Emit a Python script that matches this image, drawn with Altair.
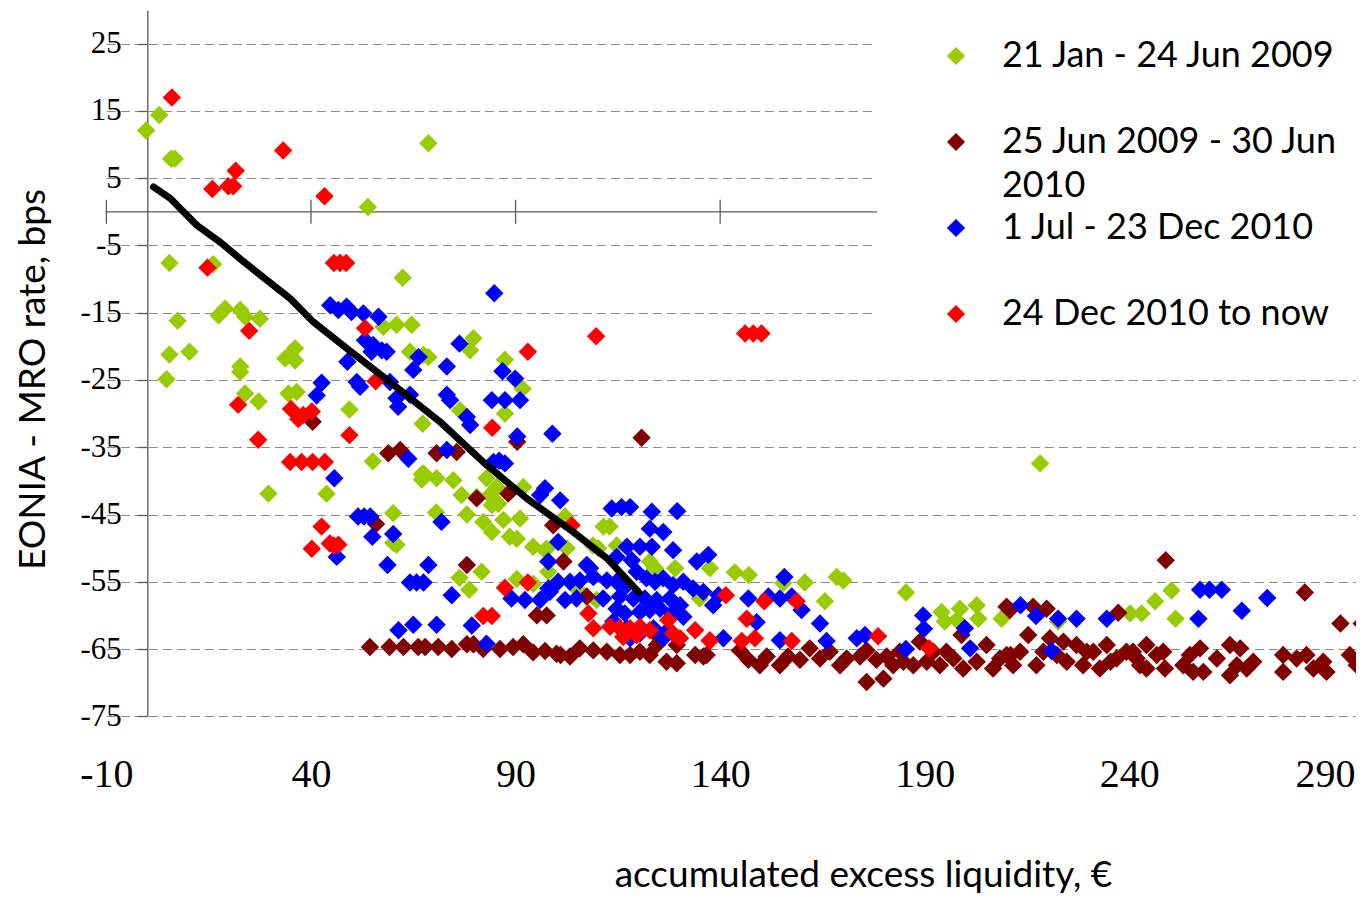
import altair as alt
import pandas as pd

series_names = ["21 Jan - 24 Jun 2009", "25 Jun 2009 - 30 Jun 2010",
                "1 Jul - 23 Dec 2010", "24 Dec 2010 to now"]
series_colors = ["#99CC00", "#800000", "#0000FF", "#FF0000"]

green_x = [-0.3, 2.9, 5.8, 6.7, 53.9, 68.7, 5.4, 16.1, 62.4, 7.4, 17.4, 19.0, 22.7, 23.9, 27.5,
           5.4, 10.3, 22.7, 22.7, 4.7, 33.7, 36.1, 36.1, 34.9, 23.9, 27.2, 34.5, 36.5,
           49.4, 29.6, 43.8, 55.1, 67.1, 67.1, 60.1, 60.9, 60.1, 64.2, 67.5, 57.7, 60.9, 64.6,
           67.3, 68.7, 79.7, 78.9, 87.4, 91.7, 87.4, 76.4, 67.5, 70.7, 74.8, 76.8, 80.5, 82.9,
           83.7, 85.4, 91.9, 70.6, 78.1, 82.1, 84.2, 87.0, 91.1, 88.6, 90.3, 84.2, 85.8,
           94.3, 97.6, 81.7, 76.3, 78.7, 90.3, 94.3, 111.5, 113.0, 129.0, 122.8, 124.1, 114.7,
           102.1, 97.2, 102.5, 108.9, 110.2, 98.0, 137.5, 104.9, 109.8, 143.6, 147.0, 155.4,
           160.7, 168.5, 170.1, 165.6, 185.4, 135.0, 194.1, 194.9, 198.6, 197.8, 202.7, 203.1,
           208.8, 246.3, 250.3, 251.3, 222.6, 240.2, 243.0, 218.2]
green_y = [12.1, 14.4, 7.9, 7.9, 0.7, 10.2, -7.6, -7.8, -9.8, -16.2, -15.4, -14.4, -14.6, -15.6, -15.9,
           -21.2, -20.8, -23.0, -23.8, -24.9, -21.8, -20.3, -22.1, -21.3, -27.0, -28.2, -27.0, -26.8,
           -29.4, -41.9, -41.9, -37.1, -39.0, -39.8, -44.8, -49.5, -49.2, -20.8, -21.3, -17.1, -16.8, -16.8,
           -31.5, -21.6, -18.8, -20.6, -22.0, -26.3, -30.0, -29.5, -38.9, -39.6, -39.9, -42.1, -42.4, -39.6,
           -42.1, -40.9, -40.9, -44.7, -45.0, -46.1, -47.6, -45.8, -45.6, -48.3, -48.6, -43.6, -43.4,
           -49.8, -50.1, -53.5, -54.4, -56.2, -54.6, -55.3, -46.8, -46.8, -53.0, -52.0, -53.0, -49.6,
           -45.3, -50.3, -50.0, -49.6, -50.0, -53.5, -53.0, -56.0, -57.7, -53.6, -54.0, -55.2,
           -55.1, -54.3, -54.8, -57.9, -56.6, -57.5, -59.5, -60.9, -59.0, -60.7, -58.5, -60.5,
           -60.5, -57.9, -56.3, -60.5, -60.9, -59.7, -59.7, -37.4]

darkred_x = [40.4, 58.9, 61.8, 55.9, 90.4, 70.7, 75.6, 80.5, 88.2, 120.8, 78.1, 95.2, 97.6,
             54.4, 59.2, 62.6, 66.2, 67.9, 71.1, 74.4, 78.1, 79.7, 82.1, 86.2, 89.4, 91.9, 94.3, 97.2, 100.0,
             99.2, 101.7, 107.4, 101.0, 103.3, 105.7, 109.0, 112.3, 115.5, 118.0, 120.4, 122.8, 124.5,
             126.9, 129.4, 133.9, 136.7, 124.5, 129.4, 135.9, 144.8, 146.9, 151.4, 154.6, 156.6, 159.5,
             161.9, 164.4, 166.8, 170.9, 174.2, 175.8, 178.2, 180.7, 183.9, 184.8, 187.2, 188.8, 192.1,
             193.7, 197.0, 199.4, 202.7, 205.1, 206.7, 208.4, 210.0, 175.8, 179.9, 149.7, 169.3, 182.3,
             190.5, 195.3, 199.0, 210.0, 248.9, 282.9, 291.6, 296.8, 210.8, 216.5, 219.8, 237.3,
             211.0, 213.3, 215.3, 217.3, 220.6, 223.9, 224.7, 227.1, 228.7, 231.2, 232.8, 234.5, 236.9,
             239.3, 241.8, 244.2, 244.2, 246.7, 248.7, 248.3, 253.2, 254.8, 257.3, 258.1, 261.4, 264.6,
             264.6, 267.1, 268.7, 270.3, 277.6, 277.6, 280.9, 283.3, 285.0, 287.4, 288.2, 293.9, 295.6,
             297.6, 211.6, 219.0, 222.3, 229.6, 235.4, 240.9, 242.6, 255.6, 266.3]
darkred_y = [-31.2, -35.9, -35.4, -46.4, -34.2, -35.9, -35.7, -42.6, -41.9, -33.6, -52.5, -60.0, -60.0,
             -64.7, -64.7, -64.7, -64.7, -64.7, -64.7, -65.0, -64.3, -64.3, -65.0, -65.0, -64.7, -64.3, -65.5, -65.3, -65.7,
             -46.6, -52.0, -57.2, -65.9, -66.1, -64.9, -65.2, -65.4, -65.9, -65.9, -65.4, -65.9, -64.4,
             -66.9, -67.1, -65.9, -65.9, -62.9, -64.4, -66.1, -65.2, -66.6, -66.1, -67.4, -66.1, -66.6,
             -64.9, -66.4, -65.4, -66.4, -66.1, -65.2, -66.6, -66.1, -65.4, -66.9, -67.4, -63.9, -65.4,
             -67.4, -66.4, -67.9, -66.9, -64.4, -67.9, -66.4, -65.9, -69.9, -69.4, -67.4, -67.4, -67.4,
             -66.9, -65.4, -62.9, -58.7, -51.8, -56.6, -61.2, -61.2, -59.2, -58.7, -59.0, -59.6,
             -65.9, -65.4, -62.9, -67.4, -63.4, -63.9, -66.9, -64.4, -67.4, -65.4, -67.9, -64.4, -66.4,
             -65.4, -66.4, -64.4, -67.9, -65.9, -67.9, -65.4, -67.4, -65.9, -64.9, -68.4, -66.4, -64.4,
             -68.9, -64.9, -67.9, -66.9, -65.9, -68.4, -66.4, -65.9, -67.9, -66.9, -68.4, -65.9, -67.4,
             -69.1, -67.4, -65.4, -65.9, -65.4, -66.9, -65.4, -67.4, -68.4, -67.4]

blue_x = [44.7, 46.7, 48.7, 49.9, 52.8, 56.5, 53.2, 55.2, 57.3, 54.8, 58.5, 66.3, 65.0, 48.9, 51.2, 52.0,
          42.6, 41.4, 59.3, 60.9, 61.3, 64.2, 45.7, 63.8, 51.5, 53.0, 54.5, 55.0, 60.1, 46.3,
          84.8, 73.2, 76.3, 86.8, 89.9, 84.2, 87.4, 91.1, 90.4, 99.0, 73.2, 74.0, 78.1, 78.9, 73.2,
          84.6, 86.0, 87.4, 97.2, 96.0, 100.9, 71.9, 58.7, 68.7, 64.2, 65.8, 67.5, 74.4,
          89.0, 92.3, 96.0, 98.0, 98.0, 79.3, 61.4, 65.0, 70.7, 82.9,
          113.5, 115.9, 118.0, 123.3, 129.5, 122.8, 126.1, 128.5, 134.3, 137.1,
          117.2, 120.4, 123.3, 114.7, 118.4, 100.4, 107.4, 108.2,
          100.4, 103.3, 105.7, 109.0, 112.3, 114.7, 117.2, 119.6, 122.0, 124.1, 126.1, 128.5, 131.0,
          133.4, 135.9, 138.3, 98.4, 102.1, 104.9, 111.4, 115.5, 118.8, 121.6, 124.5, 127.7, 130.2,
          114.7, 116.7, 120.4, 122.8, 125.3, 128.2, 131.0, 113.9, 117.2, 120.4, 123.7, 126.9, 118.0, 126.1,
          139.6, 146.9, 151.8, 154.6, 157.5, 159.9, 155.7, 148.9, 164.4, 189.6, 189.8, 199.8,
          140.8, 154.6, 166.0, 173.4, 175.4, 185.4, 201.1,
          257.3, 259.6, 262.6, 256.9, 267.5, 273.7, 213.4, 217.2, 222.6, 227.1, 234.5, 221.0]
blue_y = [-13.9, -14.6, -14.1, -14.9, -15.1, -15.6, -19.1, -19.8, -20.6, -20.8, -20.8, -21.6, -23.5, -22.3, -25.3, -26.0,
          -25.4, -27.3, -25.3, -27.7, -29.0, -27.2, -39.6, -36.7, -45.3, -45.3, -45.3, -48.3, -47.9, -51.3,
          -12.1, -23.0, -19.6, -23.7, -24.8, -28.0, -28.0, -28.0, -33.4, -33.0, -27.2, -28.0, -30.5, -31.7, -35.4,
          -37.2, -37.0, -37.4, -41.1, -42.1, -42.9, -46.1, -52.5, -52.5, -55.1, -55.1, -55.1, -57.0,
          -57.5, -57.7, -57.7, -56.0, -52.0, -61.5, -62.2, -61.4, -61.4, -64.2,
          -44.1, -43.9, -43.9, -44.6, -44.5, -47.1, -47.6, -50.3, -52.0, -51.0,
          -49.8, -49.8, -49.8, -51.3, -51.8, -49.1, -52.5, -53.0,
          -55.0, -55.0, -54.8, -54.3, -54.8, -55.0, -55.5, -53.5, -54.5, -55.0, -54.5, -55.5, -55.0,
          -56.0, -56.5, -58.5, -56.5, -57.7, -57.5, -57.5, -57.2, -57.5, -57.5, -57.7, -57.5, -58.5,
          -59.0, -59.7, -59.5, -59.2, -59.0, -59.7, -60.2, -60.9, -61.9, -62.7, -61.9, -62.4, -63.4, -63.4,
          -57.0, -57.5, -57.2, -57.5, -57.2, -59.2, -54.3, -61.0, -61.2, -60.0, -62.0, -61.9,
          -63.4, -63.7, -63.8, -63.4, -62.9, -65.0, -64.9,
          -56.2, -56.2, -56.2, -60.5, -59.3, -57.4, -58.5, -60.1, -60.5, -60.5, -60.5, -65.3]

red_x = [6.0, 15.9, 19.8, 21.0, 21.6, 33.2, 43.3, 14.7, 45.6, 47.1, 48.6,
         24.9, 22.2, 35.1, 36.9, 40.2, 38.1, 49.4, 27.1, 34.9, 37.7, 40.4, 43.4, 42.6, 40.2, 44.6, 45.6, 46.7,
         53.2, 55.8, 93.0, 84.3, 109.7, 87.4, 93.0, 82.1, 84.2, 103.7,
         113.1, 115.5, 118.0, 120.4, 122.8, 116.3, 119.6, 107.8, 109.0, 127.3, 128.5, 130.2, 133.9, 137.5,
         141.4, 150.8, 158.7, 146.5, 137.5, 145.3, 148.5, 157.5, 178.6, 191.1,
         146.1, 148.1, 150.1]
red_y = [17.0, 3.4, 3.8, 3.8, 6.1, 9.1, 2.3, -8.3, -7.6, -7.6, -7.6,
         -17.7, -28.7, -29.3, -30.8, -29.7, -30.2, -33.2, -33.9, -37.2, -37.2, -37.2, -37.2, -46.8, -50.1, -49.3, -49.6, -49.5,
         -17.3, -25.2, -20.8, -32.1, -18.5, -55.9, -55.1, -60.1, -60.1, -46.6,
         -61.7, -61.9, -61.9, -61.7, -62.2, -63.2, -62.9, -59.7, -61.9, -60.7, -62.7, -63.4, -62.2, -63.7,
         -57.0, -57.9, -57.9, -60.5, -63.8, -63.8, -63.4, -63.8, -63.1, -64.9,
         -18.1, -18.1, -18.1]

fit_x = [1.5, 5.6, 12.1, 17.8, 23.5, 34.9, 40.6, 48.7, 59.3, 71.5, 82.1, 92.7, 104.1, 112.3, 120.2]
fit_y = [3.7, 2.0, -2.0, -4.5, -7.4, -12.9, -16.4, -20.3, -25.3, -31.2, -37.2, -42.6, -47.6, -51.5, -56.6]

x_tick_values = [-10, 40, 90, 140, 190, 240, 290]
y_tick_values = [-75, -65, -55, -45, -35, -25, -15, -5, 5, 15, 25]

rows = []
for name, xs, ys in zip(series_names, [green_x, darkred_x, blue_x, red_x],
                        [green_y, darkred_y, blue_y, red_y]):
    for a, b in zip(xs, ys):
        rows.append({"liquidity": a, "spread": b, "period": name})
points_df = pd.DataFrame(rows)
fit_df = pd.DataFrame({"liquidity": fit_x, "spread": fit_y})
tick_df = pd.DataFrame({"liquidity": x_tick_values, "spread": [0] * len(x_tick_values)})
zero_df = pd.DataFrame({"spread": [0]})

W = 1250
H = 706.3
xscale = alt.Scale(domain=[-10, 295.5], nice=False, zero=False)
yscale = alt.Scale(domain=[-75, 30], nice=False, zero=False)
AXIS_GREY = "#595959"

x_axis = alt.Axis(values=x_tick_values, domain=False, ticks=False, tickSize=0, grid=False,
                  labelFont="Liberation Serif", labelFontSize=40, labelColor="black",
                  labelPadding=38, labelFlush=False, labelOverlap=False,
                  labelOffset={"condition": {"test": "datum.value == 290", "value": -9},
                               "value": 0},
                  labelExpr="'' + datum.value",
                  title="accumulated excess liquidity, €", titleFont="Lato", titleFontSize=37,
                  titleFontWeight="normal", titleColor="black", titleX=756.6, titleY=170.7,
                  titleBaseline="alphabetic", titleAlign="center")

y_axis = alt.Axis(values=y_tick_values, offset=-40.9, domainColor=AXIS_GREY, domainWidth=1.3,
                  tickColor=AXIS_GREY, tickSize=10, tickWidth=1.3,
                  labelFont="Liberation Serif", labelFontSize=31, labelColor="black",
                  labelPadding=16, labelFlush=False, labelOverlap=False,
                  labelExpr="'' + datum.value",
                  grid=True, gridColor="#8c8c8c", gridDash=[9, 5], gridWidth=1.2,
                  title="EONIA - MRO rate, bps", titleFont="Lato", titleFontSize=37,
                  titleFontWeight="normal", titleColor="black", titleAngle=270,
                  titleX=-102.3, titleY=369, titleBaseline="alphabetic", titleAlign="center")

legend = alt.Legend(orient="none", legendX=770.6, legendY=-2, direction="vertical",
                    title=" ", titleOrient="left", titleFont="Lato", titleFontSize=36,
                    titlePadding=31,
                    labelFont="Lato", labelFontSize=36, labelColor="black", labelOffset=28,
                    labelLimit=800,
                    labelExpr=("datum.label == '25 Jun 2009 - 30 Jun 2010' ? "
                               "['25 Jun 2009 - 30 Jun', '2010'] : "
                               "datum.label == '24 Dec 2010 to now' ? datum.label : [datum.label, '']"),
                    symbolType="diamond", symbolSize=330, symbolStrokeWidth=0,
                    rowPadding=6, padding=30, fillColor="white")

X = alt.X("liquidity:Q", scale=xscale, axis=x_axis)
Y = alt.Y("spread:Q", scale=yscale, axis=y_axis)

axis_line = alt.Chart(zero_df).mark_rule(color=AXIS_GREY, strokeWidth=1.3).encode(y=Y)

axis_ticks = alt.Chart(tick_df).mark_rule(color=AXIS_GREY, strokeWidth=1.3,
                                          yOffset=-12, y2Offset=12).encode(
    x=X, y=Y, y2=alt.Y2("spread:Q"))

points = alt.Chart(points_df).mark_point(filled=True, shape="diamond", size=340, opacity=1,
                                         strokeWidth=0).encode(
    x=X, y=Y,
    color=alt.Color("period:N", scale=alt.Scale(domain=series_names, range=series_colors),
                    legend=legend))

fit = alt.Chart(fit_df).mark_line(color="black", strokeWidth=7, strokeCap="round",
                                  strokeJoin="round").encode(x=X, y=Y)

chart = alt.layer(axis_line, axis_ticks, points, fit).properties(
    width=W, height=H,
    padding={"left": 98.4, "top": 2, "right": 0, "bottom": 179.7},
    autosize=alt.AutoSizeParams(type="none"),
).configure(
    style={"guide-label": {"lineHeight": 44}}
).configure_view(strokeWidth=0)

chart.save("out.html", embed_options={"renderer": "svg", "actions": False})
